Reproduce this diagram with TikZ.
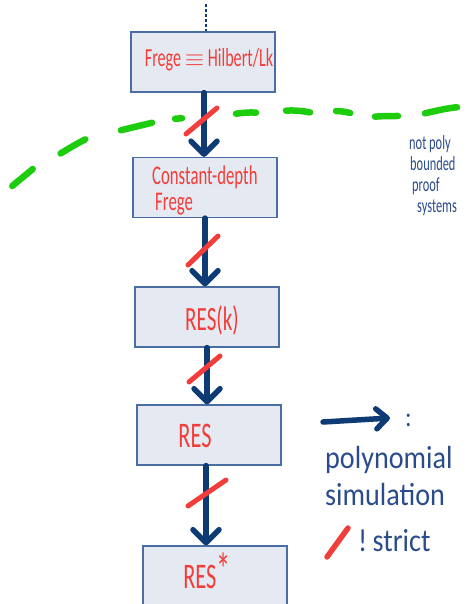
\documentclass[tikz,border=0pt]{standalone}
\usepackage{fontspec}
\setmainfont{Carlito}
\newfontfamily\handA[FakeStretch=0.62]{Carlito}
\newfontfamily\handB[FakeStretch=0.88]{Carlito}
\usetikzlibrary{arrows.meta}
\definecolor{boxfill}{HTML}{E5EAF2}
\definecolor{boxline}{HTML}{4A6EA3}
\definecolor{navy}{HTML}{0E3B74}
\definecolor{pen}{HTML}{F23E3A}
\definecolor{grn}{HTML}{1ECC0E}
\definecolor{ink}{HTML}{2B4C8C}
\begin{document}
\begin{tikzpicture}[x=1pt,y=-1pt,
  sysbox/.style={draw=boxline, fill=boxfill, line width=1.2pt, minimum width=144pt, minimum height=60pt, inner sep=0pt},
  redtext/.style={text=pen, inner sep=0pt},
  simarrow/.style={draw=navy, line width=5.5pt, line cap=round, -{Straight Barb[length=13pt,width=26pt,round]}},
  strictmark/.style={draw=pen, line width=5pt, line cap=round},
  greendash/.style={draw=grn, line width=6.5pt, line cap=round, shorten >=3pt, shorten <=3pt},
  inktext/.style={text=ink, inner sep=0pt, anchor=base west}]
\useasboundingbox (0,0) rectangle (469,604);
\clip (0,0) rectangle (469,604);

% boxes
\node[sysbox] (b1) at (203,62) {};
\node[sysbox] (b2) at (205,187.5) {};
\node[sysbox] (b3) at (207,317) {};
\node[sysbox] (b4) at (209,435) {};
\node[sysbox] (b5) at (215,576) {};

% box texts
\node[redtext, anchor=base, font={\handA\fontsize{26}{28}\selectfont}] (t1) at (209,67) {Frege $\equiv$ Hilbert/Lk};
\node[redtext, anchor=base west, align=left, font={\handA\fontsize{27}{26}\selectfont}] (t2) at (152,210) {Constant-depth\\\hspace*{3pt}Frege};
\node[redtext, anchor=base, font={\handA\fontsize{34}{34}\selectfont}] (t3) at (212,330) {RES(k)};
\node[redtext, anchor=base, font={\handA\fontsize{36}{36}\selectfont}] (t4) at (195,447) {RES};
\node[redtext, anchor=base, font={\handA\fontsize{36}{36}\selectfont}] (t5) at (207,588) {RES\raisebox{3pt}{\fontsize{46}{46}\selectfont *}};

% dotted continuation above
\coordinate (top) at (206,4);
\draw[navy, line width=2pt, dash pattern=on 3pt off 2pt] (top) -- (b1.north -| top);

% simulation arrows
\draw[simarrow] ([xshift=1pt]b1.south) -- ([xshift=-1pt]b2.north);
\draw[simarrow] (b2.south) -- ([xshift=-2pt]b3.north);
\draw[simarrow] (b3.south) -- ([xshift=-2pt]b4.north);
\draw[simarrow] ([xshift=-3pt]b4.south) -- ([xshift=-9pt]b5.north);

% strict marks
\draw[strictmark] (186,134) -- (217,108);
\draw[strictmark] (188,265) -- (218,236);
\draw[strictmark] (189,382) -- (220,356);
\draw[strictmark] (188,506) -- (226,480);

% green dashed boundary
\draw[greendash] (10,188) .. controls (18,181) and (27,174) .. (35,167);
\draw[greendash] (58,155) .. controls (68,149) and (78,143) .. (88,138);
\draw[greendash] (118,131) .. controls (130,128) and (143,125) .. (155,122);
\draw[greendash] (172,119) -- (185,118);
\draw[greendash] (233,114) .. controls (242,113) and (250,112) .. (259,113);
\draw[greendash] (283,111) .. controls (293,110) and (303,111) .. (313,113);
\draw[greendash] (333,111) .. controls (340,111) and (347,112) .. (353,114);
\draw[greendash] (372,117) .. controls (382,116) and (391,116) .. (401,116);
\draw[greendash] (422,114) .. controls (435,111) and (448,108) .. (460,107);

\node[inktext, align=left, font={\handA\fontsize{20}{21}\selectfont}] (np) at (409,212) {not poly\\\hspace*{1pt}bounded\\\hspace*{3pt}proof\\\hspace*{8pt}systems};

% legend
\coordinate (la) at (323,422);
\coordinate (lb) at (390,418);
\draw[draw=navy, line width=5.5pt, line cap=round, -{Straight Barb[length=11pt,width=20pt,round]}] (la) -- (lb);
\node[inktext, font={\handB\fontsize{28}{28}\selectfont}] (colon) at (405,426) {:};
\node[inktext, font={\handB\fontsize{32}{32}\selectfont}] (poly) at (325,468) {polynomial};
\node[inktext, font={\handB\fontsize{32}{32}\selectfont}] (sim) at (325,505) {simulation};
\draw[strictmark, line width=5.5pt] (327,557) -- (348,528);
\node[inktext, font={\handB\fontsize{32}{32}\selectfont}] (strict) at (358,551) {!\,strict};
\end{tikzpicture}
\end{document}
